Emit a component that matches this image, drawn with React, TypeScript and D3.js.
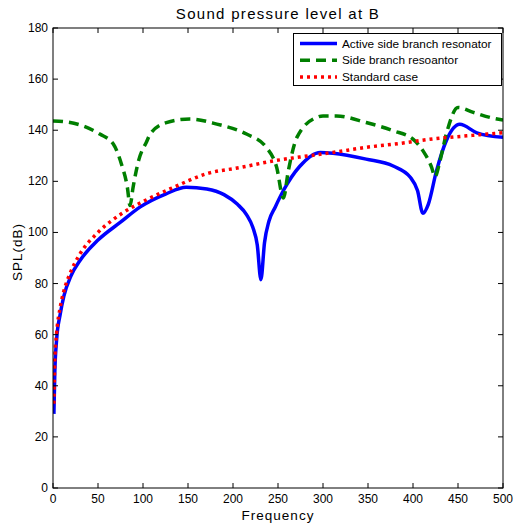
import React from "react";
import * as d3 from "d3";

// Active side branch resonator
const freqActive = [1, 2, 4, 8, 12, 20, 30, 50, 75, 97, 125, 148, 171, 190, 205, 215, 222, 227, 231, 235, 240, 247, 256, 274, 297, 311, 348, 378, 397, 405, 411, 417, 426, 437, 452, 471, 500];
const splActive = [29, 45, 58, 68, 75, 83, 89, 97, 104, 110, 115, 117.7, 117, 114.8, 111, 107, 102, 95, 81.5, 96, 104.5, 110, 116.4, 125.8, 131.3, 131, 128.7, 126, 121.6, 116.4, 107.5, 111, 124, 135.9, 142.3, 139, 137.2];

// Side branch resonator
const freqSide = [0, 11, 33, 52, 67, 76, 82.6, 85.6, 89, 95, 104, 108, 126, 152, 182, 215, 237, 248.5, 256, 261.5, 271, 293, 300, 315, 348, 378, 400, 411, 420.7, 424.4, 430, 437, 450, 467, 489, 500];
const splSide = [143.6, 143.4, 141.7, 138.5, 134.6, 126.8, 117.7, 110.5, 117.7, 128, 135.5, 138.5, 143, 144.4, 142.4, 138.5, 133.3, 125.5, 113.5, 124.2, 137.2, 145, 145.6, 145.6, 143, 139.8, 136.5, 132, 125.5, 121.8, 128, 138.5, 148.9, 147, 144.7, 144];

// Standard case
const freqStd = [1, 2, 4, 8, 12, 19, 30, 50, 76, 104, 133, 171, 208, 245, 274, 311, 348, 385, 422, 460, 500];
const splStd = [33, 50, 60.5, 70.7, 77, 84, 91.6, 100, 107.3, 112.8, 117.5, 123, 125.4, 128, 129.5, 131.3, 133.3, 134.8, 136.6, 137.8, 139];

const xTicks = [0, 50, 100, 150, 200, 250, 300, 350, 400, 450, 500];
const yTicks = [0, 20, 40, 60, 80, 100, 120, 140, 160, 180];

const series = [
  { name: "Active side branch resonator", f: freqActive, v: splActive, color: "#0000ff", dash: "" },
  { name: "Side branch resoantor", f: freqSide, v: splSide, color: "#007f00", dash: "10,6" },
  { name: "Standard case", f: freqStd, v: splStd, color: "#ff0000", dash: "3,4" },
];

const W = 526;
const H = 524;
const left = 53;
const right = 503;
const top = 28;
const bottom = 488;
const font = "'Liberation Sans', Arial, Helvetica, sans-serif";

export default function App() {
  const x = d3.scaleLinear().domain([0, 500]).range([left, right]);
  const y = d3.scaleLinear().domain([0, 180]).range([bottom, top]);

  const gen = d3.line<[number, number]>().curve(d3.curveMonotoneX);
  const paths = series.map((s) => {
    const pts: [number, number][] = s.f.map((f, i) => [x(f), y(s.v[i])]);
    return { ...s, d: gen(pts) || "" };
  });

  const tickLen = 5;

  return (
    <svg width={W} height={H} style={{ position: "absolute", left: 0, top: 0, background: "#fff" }} fontFamily={font}>
      <rect x={0} y={0} width={W} height={H} fill="#fff" />
      <defs>
        <clipPath id="plot">
          <rect x={left} y={top} width={right - left} height={bottom - top} />
        </clipPath>
      </defs>

      {/* curves */}
      <g clipPath="url(#plot)">
        {paths.map((p) => (
          <path
            key={p.name}
            d={p.d}
            fill="none"
            stroke={p.color}
            strokeWidth={3.5}
            strokeDasharray={p.dash || undefined}
            strokeLinejoin="round"
          />
        ))}
      </g>

      {/* ticks */}
      {xTicks.map((t) => (
        <g key={"x" + t}>
          <line x1={x(t)} x2={x(t)} y1={bottom} y2={bottom - tickLen} stroke="#000" />
          <line x1={x(t)} x2={x(t)} y1={top} y2={top + tickLen} stroke="#000" />
          <text x={x(t)} y={503} fontSize={12} textAnchor="middle">
            {t}
          </text>
        </g>
      ))}
      {yTicks.map((t) => (
        <g key={"y" + t}>
          <line x1={left} x2={left + tickLen} y1={y(t)} y2={y(t)} stroke="#000" />
          <line x1={right} x2={right - tickLen} y1={y(t)} y2={y(t)} stroke="#000" />
          <text x={48} y={y(t) + 4} fontSize={12} textAnchor="end">
            {t}
          </text>
        </g>
      ))}

      {/* axes box */}
      <rect x={left} y={top} width={right - left} height={bottom - top} fill="none" stroke="#000" strokeWidth={1} />

      {/* title and labels */}
      <text x={(left + right) / 2} y={19} fontSize={15} textAnchor="middle" letterSpacing={1.3}>
        Sound pressure level at B
      </text>
      <text x={(left + right) / 2} y={520} fontSize={13.5} textAnchor="middle" letterSpacing={1}>
        Frequency
      </text>
      <text transform={`translate(22,252) rotate(-90)`} fontSize={13.5} textAnchor="middle" letterSpacing={1}>
        SPL(dB)
      </text>

      {/* legend */}
      <g>
        <rect x={293.5} y={33.5} width={208} height={52} fill="#fff" stroke="#000" strokeWidth={1} />
        {series.map((s, i) => {
          const ly = 43.5 + i * 16.7;
          return (
            <g key={"lg" + s.name}>
              <line
                x1={300}
                x2={337}
                y1={ly}
                y2={ly}
                stroke={s.color}
                strokeWidth={3.5}
                strokeDasharray={s.dash || undefined}
              />
              <text x={342} y={ly + 4} fontSize={11.8}>
                {s.name}
              </text>
            </g>
          );
        })}
      </g>
    </svg>
  );
}
